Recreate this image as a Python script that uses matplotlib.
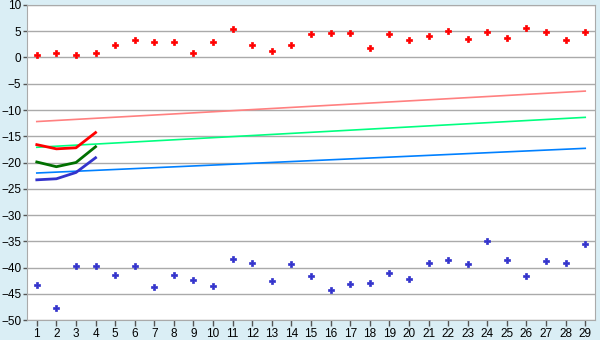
import matplotlib
matplotlib.use("Agg")
import matplotlib.pyplot as plt

plt.rcParams["font.family"] = ["Liberation Sans", "DejaVu Sans"]

cats = list(range(1, 30))
red_pts = [0.4, 0.8, 0.4, 0.8, 2.3, 3.4, 3.0, 3.0, 0.95, 3.0,
           5.5, 2.3, 1.3, 2.3, 4.4, 4.6, 4.6, 1.9, 4.4, 3.4,
           4.0, 5.1, 3.6, 4.8, 3.8, 5.7, 4.9, 3.4, 4.8]
blue_pts = [-43.4, -47.8, -39.7, -39.7, -41.4, -39.7, -43.8, -41.4, -42.3, -43.6,
            -38.3, -39.2, -42.5, -39.4, -41.7, -44.2, -43.2, -43.0, -41.0, -42.1,
            -39.2, -38.5, -39.4, -34.9, -38.5, -41.7, -38.7, -39.2, -35.6]
trend_x = [1, 29]
pink_trend = [-12.2, -6.4]
green_trend = [-17.1, -11.4]
blue_trend = [-22.0, -17.3]
short_x = [1, 2, 3, 4]
red_short = [-16.6, -17.4, -17.2, -14.3]
green_short = [-19.9, -20.8, -20.0, -17.0]
blue_short = [-23.3, -23.1, -21.9, -19.1]
yticks = list(range(-50, 11, 5))

fig = plt.figure(figsize=(6, 3.4), dpi=100)
fig.patch.set_facecolor("#daeef5")
ax = fig.add_axes([0.045, 0.0588, 0.9467, 0.9265])
ax.set_facecolor("white")

ax.plot(trend_x, pink_trend, color="#ff8080", lw=1.2)
ax.plot(trend_x, green_trend, color="#00ff80", lw=1.2)
ax.plot(trend_x, blue_trend, color="#0080ff", lw=1.2)
ax.plot(short_x, red_short, color="#ff0000", lw=2)
ax.plot(short_x, green_short, color="#007000", lw=2)
ax.plot(short_x, blue_short, color="#3333cc", lw=2)
ax.plot(cats, red_pts, ls="none", marker="P", ms=4, color="#ff0000", mec="#ff0000", mew=0.5)
ax.plot(cats, blue_pts, ls="none", marker="P", ms=4, color="#3333cc", mec="#3333cc", mew=0.5)

ax.set_xlim(0.5, 29.5)
ax.set_ylim(-50, 10)
ax.set_yticks(yticks)
ax.set_xticks(cats)
ax.grid(axis="y", color="#aaaaaa", lw=1)
ax.set_axisbelow(True)
for s in ax.spines.values():
    s.set_color("#aaaaaa")
ax.tick_params(axis="both", labelsize=8.5, colors="#555555", length=3, width=1)
ax.tick_params(axis="x", length=4, pad=2)
ax.tick_params(axis="y", pad=1)
for lab in ax.get_xticklabels() + ax.get_yticklabels():
    lab.set_color("black")

fig.savefig("out.png", dpi=100, facecolor=fig.get_facecolor())
